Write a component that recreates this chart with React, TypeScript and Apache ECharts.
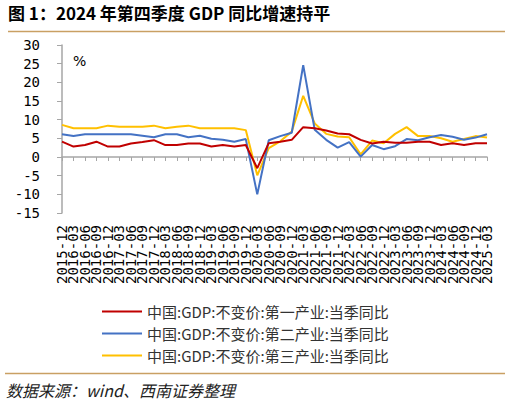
import { useEffect, useRef } from 'react'
import * as echarts from 'echarts'

// 季度标签 2015-12 ~ 2025-03
const quarters = [
  '2015-12',
  '2016-03', '2016-06', '2016-09', '2016-12',
  '2017-03', '2017-06', '2017-09', '2017-12',
  '2018-03', '2018-06', '2018-09', '2018-12',
  '2019-03', '2019-06', '2019-09', '2019-12',
  '2020-03', '2020-06', '2020-09', '2020-12',
  '2021-03', '2021-06', '2021-09', '2021-12',
  '2022-03', '2022-06', '2022-09', '2022-12',
  '2023-03', '2023-06', '2023-09', '2023-12',
  '2024-03', '2024-06', '2024-09', '2024-12',
  '2025-03',
]

const primary = [
  4.1, 2.8, 3.2, 4.1, 2.8, 2.8, 3.6, 4.0, 4.5, 3.2, 3.2, 3.6, 3.6, 2.8, 3.2, 2.8, 3.2,
  -3.0, 3.7, 4.1, 4.6, 8.0, 7.7, 7.1, 6.3, 6.1, 4.6, 3.6, 4.1, 3.8, 3.8, 4.1, 4.1,
  3.2, 3.7, 3.2, 3.7, 3.7,
]

const secondary = [
  6.1, 5.6, 6.1, 6.1, 6.1, 6.1, 6.1, 5.7, 5.3, 6.1, 6.1, 5.3, 5.7, 4.9, 4.6, 4.1, 4.8,
  -10.0, 4.5, 5.6, 6.5, 24.6, 7.3, 4.6, 2.5, 4.0, 0.1, 3.2, 2.1, 2.9, 4.8, 4.5, 5.3,
  5.9, 5.4, 4.6, 5.2, 6.1,
]

const tertiary = [
  8.6, 7.7, 7.7, 7.7, 8.4, 8.1, 8.1, 8.1, 8.4, 7.7, 8.1, 8.4, 7.7, 7.7, 7.7, 7.7, 7.2,
  -4.9, 2.4, 4.2, 6.8, 16.4, 9.0, 6.2, 5.5, 5.3, 0.7, 4.4, 3.7, 6.2, 8.0, 5.6, 5.6,
  5.0, 4.1, 4.8, 5.6, 5.2,
]

const seriesNames = [
  '中国:GDP:不变价:第一产业:当季同比',
  '中国:GDP:不变价:第二产业:当季同比',
  '中国:GDP:不变价:第三产业:当季同比',
]

const colors = ['#C00000', '#4472C4', '#FFC000']

const mono = "'DejaVu Sans Mono', monospace"
const cjk = "'Noto Sans CJK SC', sans-serif"
const ruleColor = '#C9A063'

export default function App() {
  const ref = useRef<HTMLDivElement>(null)

  useEffect(() => {
    if (!ref.current) return
    const chart = echarts.init(ref.current, null, { renderer: 'svg' })

    chart.setOption({
      animation: false,
      backgroundColor: '#fff',
      grid: { left: 62, right: 23, top: 45, bottom: 193 },
      legend: {
        orient: 'vertical',
        left: 97,
        top: 299,
        icon: 'rect',
        itemWidth: 40,
        itemHeight: 2,
        itemGap: 7,
        textStyle: { fontFamily: cjk, fontSize: 15, lineHeight: 15, color: '#333' },
        data: seriesNames,
      },
      xAxis: [
        {
          type: 'category',
          data: quarters,
          boundaryGap: false,
          position: 'bottom',
          axisLine: { show: false, onZero: false },
          axisTick: { show: false },
          axisLabel: {
            interval: 0,
            rotate: 90,
            margin: 12,
            fontFamily: mono,
            fontSize: 14,
            color: '#000',
          },
        },
        {
          type: 'category',
          data: quarters,
          boundaryGap: false,
          position: 'bottom',
          axisLine: { show: true, onZero: true, lineStyle: { color: '#A6A6A6', width: 1.5 } },
          axisTick: { show: true, interval: 0, length: 4, lineStyle: { color: '#A6A6A6' } },
          axisLabel: { show: false },
        },
      ],
      yAxis: {
        type: 'value',
        min: -15,
        max: 30,
        interval: 5,
        axisLine: { show: true, lineStyle: { color: '#A6A6A6', width: 1.5 } },
        axisTick: { show: true, length: 5, lineStyle: { color: '#A6A6A6' } },
        splitLine: { show: false },
        axisLabel: { margin: 22, fontFamily: mono, fontSize: 14, color: '#000' },
      },
      graphic: [
        {
          type: 'text',
          left: 8,
          top: 4,
          style: {
            text: '图 1：2024 年第四季度 GDP 同比增速持平',
            font: `bold 17px ${cjk}`,
            fill: '#000',
          },
        },
        {
          type: 'line',
          shape: { x1: 8, y1: 31.5, x2: 505, y2: 31.5 },
          style: { stroke: ruleColor, lineWidth: 1.5 },
        },
        {
          type: 'text',
          left: 73,
          top: 54,
          style: { text: '%', font: `14px 'DejaVu Sans', sans-serif`, fill: '#000' },
        },
        {
          type: 'line',
          shape: { x1: 5, y1: 373.5, x2: 505, y2: 373.5 },
          style: { stroke: ruleColor, lineWidth: 1.5 },
        },
        {
          type: 'text',
          left: 6,
          top: 382,
          style: {
            text: '数据来源：wind、西南证券整理',
            font: `italic 16px ${cjk}`,
            fill: '#222',
          },
        },
      ],
      series: [primary, secondary, tertiary].map((d, i) => ({
        name: seriesNames[i],
        type: 'line',
        data: d,
        xAxisIndex: 0,
        showSymbol: false,
        symbol: 'none',
        color: colors[i],
        lineStyle: { width: 2, color: colors[i] },
        z: 3 - i,
      })),
    })

    return () => chart.dispose()
  }, [])

  return (
    <div
      ref={ref}
      style={{ position: 'absolute', left: 0, top: 0, width: 510, height: 406 }}
    />
  )
}
